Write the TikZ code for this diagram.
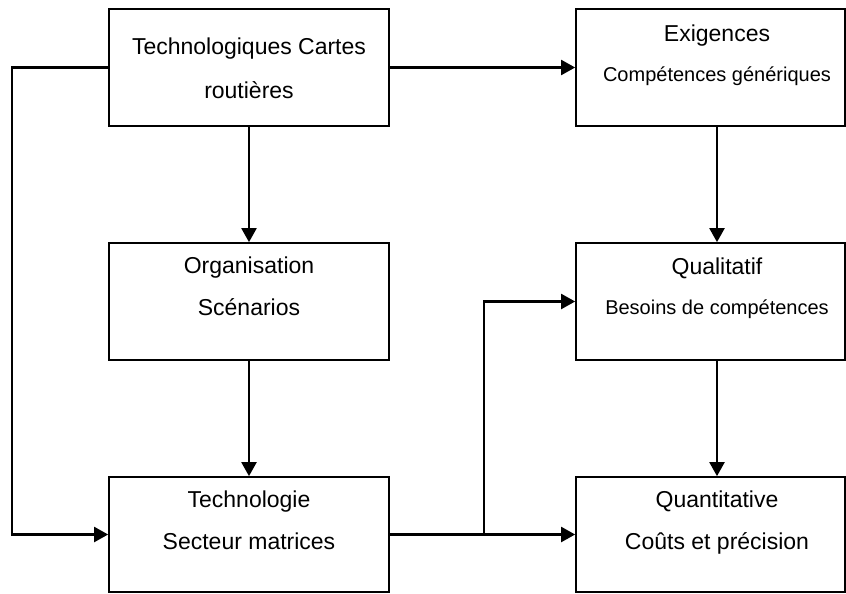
\documentclass[tikz,border=0pt]{standalone}
\usepackage{fontspec}
\setmainfont{Liberation Sans}
\usetikzlibrary{arrows.meta,positioning}

\begin{document}
\begin{tikzpicture}[x=1pt,y=-1pt,
	every node/.style={font=\fontsize{23}{42}\selectfont},
	box/.style={draw,line width=1.7pt,minimum width=280pt,minimum height=117pt,inner sep=0pt},
	rbox/.style={box,minimum width=269pt},
	txt/.style={align=center,inner sep=0pt},
	arr/.style={line width=2.2pt,-{Triangle[length=14pt,width=15pt]}}]
	\useasboundingbox (0,0) rectangle (846,594);
	\node[box] (carte) at (249,67.5) {};
	\node[box] (orga) at (249,301.5) {};
	\node[box,minimum height=115pt] (techno) at (249,534.5) {};
	\node[rbox] (exig) at (710.5,67.5) {};
	\node[rbox] (qual) at (710.5,301.5) {};
	\node[rbox,minimum height=115pt] (quant) at (710.5,534.5) {};
	\node[txt,below=29pt of carte.north] (cartetxt) {Technologiques Cartes\\[2pt]routières};
	\node[txt,below=14pt of orga.north] (orgatxt) {Organisation\\Scénarios};
	\node[txt,below=14pt of techno.north] (technotxt) {Technologie\\Secteur matrices};
	\node[txt,below=16pt of exig.north,xshift=6.5pt] (exigtxt) {Exigences\\[-2pt]{\fontsize{20}{24}\selectfont Compétences génériques}};
	\node[txt,below=15pt of qual.north,xshift=6.5pt] (qualtxt) {Qualitatif\\[-2pt]{\fontsize{20}{24}\selectfont Besoins de compétences}};
	\node[txt,below=14pt of quant.north,xshift=6.5pt] (quanttxt) {Quantitative\\Coûts et précision};
	\draw[arr] (carte) -- (orga);
	\draw[arr] (orga) -- (techno);
	\draw[arr] (carte) -- (exig);
	\draw[arr] (exig.south -| exigtxt) -- (qual.north -| exigtxt);
	\draw[arr] (qual.south -| qualtxt) -- (quant.north -| qualtxt);
	\draw[arr] (carte.west) -- ++(-96,0) |- (techno.west);
	\draw[arr] (techno) -- (quant);
	\coordinate[right=94pt of techno.east] (split);
	\draw[arr] (split) |- (qual.west);
\end{tikzpicture}
\end{document}
